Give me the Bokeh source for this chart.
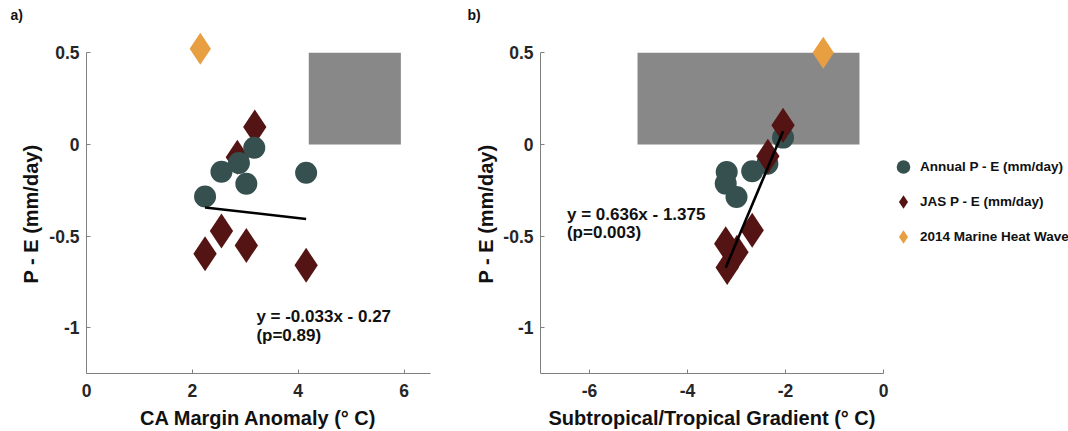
from bokeh.plotting import figure
from bokeh.layouts import row
from bokeh.models import Range1d, FixedTicker, Label, Legend, LegendItem, Title
from bokeh.embed import file_html
from bokeh.resources import INLINE

# ---------------- data ----------------
# panel a: CA margin anomaly (deg C) vs P - E
a_annual_x = [2.24, 2.55, 2.88, 3.02, 3.17, 4.15]
a_annual_y = [-0.284, -0.149, -0.102, -0.215, -0.018, -0.155]
a_jas_x = [3.18, 2.85, 2.55, 2.24, 3.02, 4.15]
a_jas_y = [0.095, -0.07, -0.473, -0.597, -0.551, -0.66]
a_mhw_x = [2.15]
a_mhw_y = [0.522]
a_box = [4.2, 5.94, 0.0, 0.5]          # left, right, bottom, top
a_fit = [-0.033, -0.27]                  # slope, intercept
a_eq = ["y = -0.033x - 0.27", "(p=0.89)"]

# panel b: subtropical/tropical gradient (deg C) vs P - E
b_annual_x = [-3.20, -3.22, -3.00, -2.68, -2.37, -2.05]
b_annual_y = [-0.151, -0.214, -0.287, -0.147, -0.105, 0.037]
b_jas_x = [-2.05, -2.36, -2.68, -3.22, -2.99, -3.19]
b_jas_y = [0.105, -0.065, -0.469, -0.542, -0.588, -0.671]
b_mhw_x = [-1.23]
b_mhw_y = [0.50]
b_box = [-5.02, -0.49, 0.0, 0.5]
b_fit = [0.636, 1.375]
b_eq = ["y = 0.636x - 1.375", "(p=0.003)"]

y_ticks = [-1, -0.5, 0, 0.5]
y_tick_labels = ["-1", "-0.5", "0", "0.5"]
a_x_ticks = [0, 2, 4, 6]
a_x_tick_labels = ["0", "2", "4", "6"]
b_x_ticks = [-6, -4, -2, 0]
b_x_tick_labels = ["-6", "-4", "-2", "0"]

y_label = "P - E (mm/day)"
legend_labels = ["Annual P - E (mm/day)", "JAS P - E (mm/day)", "2014 Marine Heat Wave"]

# ---------------- style ----------------
FONT = "Liberation Sans"
C_ANN = "#36504f"
C_JAS = "#541414"
C_MHW = "#e89f42"
C_BOX = "#888888"
AX = "#808080"
TXT = "#262626"


def make_fig(xr, xticks, xlabels, xlabel, frame_w, left_border, right_border,
             ylab_standoff, panel_tag, tag_offset):
    p = figure(
        frame_width=frame_w,
        frame_height=342,
        min_border_left=left_border,
        min_border_right=right_border,
        min_border_top=30,
        min_border_bottom=59,
        x_range=Range1d(*xr),
        y_range=Range1d(-1.25, 0.616),
        output_backend="svg",
        toolbar_location=None,
    )
    p.outline_line_color = None
    p.xgrid.visible = False
    p.ygrid.visible = False
    p.background_fill_color = "white"
    p.border_fill_color = "white"

    p.title.text = panel_tag
    p.title.align = "left"
    p.title.offset = tag_offset
    p.title.standoff = 13
    p.title.vertical_align = "top"
    p.title.text_font = FONT
    p.title.text_font_style = "bold"
    p.title.text_font_size = "14px"
    p.title.text_color = "#111111"

    p.xaxis.ticker = FixedTicker(ticks=xticks)
    p.xaxis.major_label_overrides = {t: l for t, l in zip(xticks, xlabels)}
    p.yaxis.ticker = FixedTicker(ticks=y_ticks)
    p.yaxis.major_label_overrides = {t: l for t, l in zip(y_ticks, y_tick_labels)}
    p.yaxis.bounds = (-1.25, 0.5)

    for ax in (p.xaxis[0], p.yaxis[0]):
        ax.axis_line_color = AX
        ax.axis_line_width = 1
        ax.major_tick_line_color = AX
        ax.major_tick_in = 4
        ax.major_tick_out = 0
        ax.minor_tick_line_color = None
        ax.major_label_text_font = FONT
        ax.major_label_text_font_style = "bold"
        ax.major_label_text_font_size = "17.5px"
        ax.major_label_text_color = TXT
        ax.axis_label_text_font = FONT
        ax.axis_label_text_font_style = "bold"
        ax.axis_label_text_font_size = "20px"
        ax.axis_label_text_color = "#111111"

    p.xaxis.major_label_standoff = 10
    p.xaxis.axis_label_standoff = 7
    p.yaxis.major_label_standoff = 7
    p.xaxis.axis_label = xlabel

    # y label as a left-side title so it can be centred on the drawn axis span
    p.add_layout(Title(text=y_label, align="left", offset=90, standoff=ylab_standoff,
                       text_font=FONT, text_font_style="bold", text_font_size="20px",
                       text_color="#111111"), "left")
    return p


def eq_label(x, y, text):
    return Label(x=x, y=y, text=text, text_baseline="middle", text_font=FONT,
                 text_font_style="bold", text_font_size="17px", text_color="#111111")


# ---------------- panel a ----------------
pa = make_fig((0, 6.5), a_x_ticks, a_x_tick_labels, "CA Margin Anomaly (° C)",
              344, 86, 20, 10, "a)", -76)
pa.quad(left=[a_box[0]], right=[a_box[1]], bottom=[a_box[2]], top=[a_box[3]],
        fill_color=C_BOX, line_color=None)
pa.scatter(a_jas_x, a_jas_y, marker="diamond", size=35, fill_color=C_JAS, line_color=None)
pa.scatter(a_annual_x, a_annual_y, marker="circle", size=22, fill_color=C_ANN, line_color=None)
pa.scatter(a_mhw_x, a_mhw_y, marker="diamond", size=32, fill_color=C_MHW, line_color=None)
ax0, ax1 = min(a_annual_x), max(a_annual_x)
pa.line([ax0, ax1], [a_fit[0] * ax0 + a_fit[1], a_fit[0] * ax1 + a_fit[1]],
        line_color="black", line_width=2.6)
pa.add_layout(eq_label(3.21, -0.94, a_eq[0]))
pa.add_layout(eq_label(3.21, -1.045, a_eq[1]))

# ---------------- panel b ----------------
pb = make_fig((-7, 0), b_x_ticks, b_x_tick_labels, "Subtropical/Tropical Gradient (° C)",
              343, 90, 0, 8, "b)", -73)
pb.quad(left=[b_box[0]], right=[b_box[1]], bottom=[b_box[2]], top=[b_box[3]],
        fill_color=C_BOX, line_color=None)
rc = pb.scatter(b_annual_x, b_annual_y, marker="circle", size=22, fill_color=C_ANN, line_color=None)
rd = pb.scatter(b_jas_x, b_jas_y, marker="diamond", size=35, fill_color=C_JAS, line_color=None)
ro = pb.scatter(b_mhw_x, b_mhw_y, marker="diamond", size=32, fill_color=C_MHW, line_color=None)
bx0 = min(b_annual_x + b_jas_x)
bx1 = max(b_annual_x + b_jas_x)
pb.line([bx0, bx1], [b_fit[0] * bx0 + b_fit[1], b_fit[0] * bx1 + b_fit[1]],
        line_color="black", line_width=2.6)
pb.add_layout(eq_label(-6.46, -0.38, b_eq[0]))
pb.add_layout(eq_label(-6.46, -0.482, b_eq[1]))

legend = Legend(
    items=[LegendItem(label=legend_labels[0], renderers=[rc]),
           LegendItem(label=legend_labels[1], renderers=[rd]),
           LegendItem(label=legend_labels[2], renderers=[ro])],
    location=(3, 119),
    glyph_width=34, glyph_height=35, spacing=0, label_standoff=0,
    padding=0, margin=0, border_line_color=None, background_fill_alpha=0,
    label_text_font=FONT, label_text_font_style="bold", label_text_font_size="13.5px",
    label_text_color="#111111",
)
pb.add_layout(legend, "right")

layout = row(pa, pb)
open("out.html", "w").write(file_html(layout, INLINE))
